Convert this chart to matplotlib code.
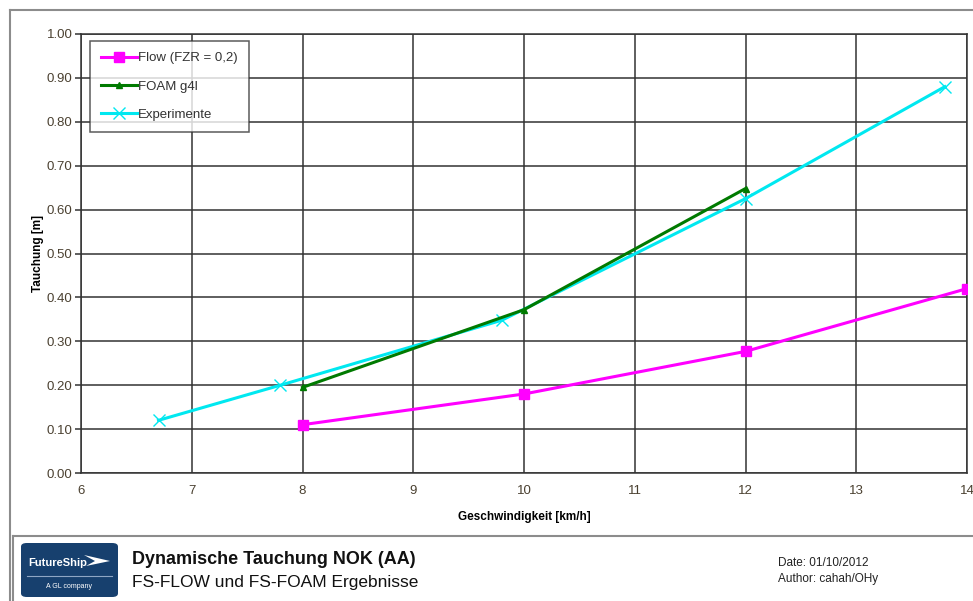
import matplotlib
matplotlib.use("Agg")
import matplotlib.pyplot as plt
from matplotlib.lines import Line2D
from matplotlib.patches import FancyBboxPatch, Polygon

plt.rcParams['font.family'] = ['Liberation Sans', 'DejaVu Sans']

# data
flow_x = [8, 10, 12, 14]
flow_y = [0.11, 0.18, 0.277, 0.42]
foam_x = [8, 10, 12]
foam_y = [0.195, 0.372, 0.648]
exp_x = [6.7, 7.8, 9.8, 12, 13.8]
exp_y = [0.12, 0.20, 0.348, 0.625, 0.88]

x_ticks = [6, 7, 8, 9, 10, 11, 12, 13, 14]
y_ticks = [0.0, 0.1, 0.2, 0.3, 0.4, 0.5, 0.6, 0.7, 0.8, 0.9, 1.0]

W, H = 973, 601
fig = plt.figure(figsize=(W / 100, H / 100), dpi=100)


def fx(x):
    return x / W


def fy(y):
    return 1 - y / H


ax = fig.add_axes([fx(81), fy(473), fx(967) - fx(81), fy(34) - fy(473)])

ax.plot(flow_x, flow_y, color='#ff00ff', lw=2.2, marker='s', ms=7.5,
        label='Flow (FZR = 0,2)', zorder=4)
ax.plot(foam_x, foam_y, color='#007a00', lw=2.2, marker='^', ms=5,
        label='FOAM g4l', zorder=4)
ax.plot(exp_x, exp_y, color='#00e8f0', lw=2.2, marker='x', ms=9, mew=1,
        label='Experimente', zorder=3)

ax.set_xlim(6, 14)
ax.set_ylim(0, 1)
ax.set_xticks(x_ticks)
ax.set_yticks(y_ticks)
ax.set_yticklabels(['%.2f' % v for v in y_ticks])
ax.grid(True, color='#333333', lw=1.1)
ax.set_axisbelow(True)
for s in ax.spines.values():
    s.set_color('#333333')
    s.set_linewidth(1.1)
ax.tick_params(axis='both', colors='#333333', labelcolor='#4a4030',
               labelsize=9.5, length=4, width=1.1)
ax.tick_params(axis='y', pad=2)
ax.tick_params(axis='x', length=0, pad=9)

ax.set_xlabel('Geschwindigkeit [km/h]', fontsize=8.5, fontweight='bold',
              labelpad=10)
ax.set_ylabel('Tauchung [m]', fontsize=8.5, fontweight='bold', labelpad=2)

leg = ax.legend(loc='upper left', bbox_to_anchor=(9 / 886, 0.984),
                frameon=True, fancybox=False, fontsize=9.5, handlelength=2.7,
                borderpad=0.85, labelspacing=1.2, handletextpad=0.1,
                borderaxespad=0)
leg.get_frame().set_edgecolor('#333333')
leg.get_frame().set_linewidth(1.1)
for t in leg.get_texts():
    t.set_color('#333333')

# outer frame and footer separators
frame_kw = dict(color='#8c8c8c', lw=1.5, transform=fig.transFigure)
fig.add_artist(Line2D([fx(10), fx(973)], [fy(10), fy(10)], **frame_kw))
fig.add_artist(Line2D([fx(10), fx(10)], [fy(10), fy(601)], **frame_kw))
fig.add_artist(Line2D([fx(13), fx(973)], [fy(536), fy(536)], **frame_kw))
fig.add_artist(Line2D([fx(13), fx(13)], [fy(536), fy(601)], **frame_kw))

# logo
logo = FancyBboxPatch((fx(21), fy(597)), fx(118) - fx(21), fy(543) - fy(597),
                      boxstyle='round,pad=0,rounding_size=0.006',
                      transform=fig.transFigure, facecolor='#17406e',
                      edgecolor='none')
fig.add_artist(logo)
fig.text(fx(28), fy(566), 'FutureShip', color='white', fontsize=8,
         fontweight='bold', va='baseline')
fig.add_artist(Polygon([[fx(84), fy(555)], [fx(110), fy(561)], [fx(86), fy(566)],
                        [fx(95), fy(561)]], closed=True, transform=fig.transFigure,
                       facecolor='white', edgecolor='none'))
fig.add_artist(Line2D([fx(27), fx(112)], [fy(576), fy(576)], color='#8fa6c4',
                      lw=0.8, transform=fig.transFigure))
fig.text(fx(69.5), fy(588), 'A GL company', color='white', fontsize=5,
         ha='center', va='baseline')

fig.text(fx(132), fy(564), 'Dynamische Tauchung NOK (AA)', fontsize=13,
         fontweight='bold', color='#111111', va='baseline')
fig.text(fx(132), fy(587), 'FS-FLOW und FS-FOAM Ergebnisse', fontsize=12.5,
         color='#111111', va='baseline')
fig.text(fx(778), fy(566), 'Date: 01/10/2012', fontsize=8.5, color='#222222',
         va='baseline')
fig.text(fx(778), fy(582), 'Author: cahah/OHy', fontsize=8.5, color='#222222',
         va='baseline')

fig.savefig('out.png', dpi=100)
